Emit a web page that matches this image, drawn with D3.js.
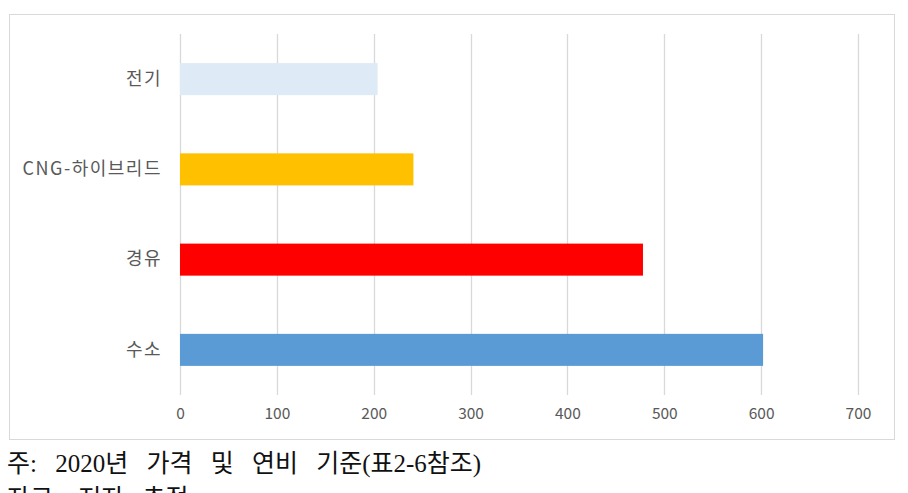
<!DOCTYPE html>
<html>
<head>
<meta charset="utf-8">
<script src="https://cdn.jsdelivr.net/npm/d3@7"></script>
<style>
  body { margin: 0; background: #fff; }
</style>
</head>
<body>
<div id="canvas"></div>
<script>
"use strict";

// Chart data
let categories = ["전기", "CNG-하이브리드", "경유", "수소"];
let values = [204, 241, 478, 602];
let barColors = ["#DEEAF6", "#FFC000", "#FF0000", "#5B9BD5"];
let xTicks = [0, 100, 200, 300, 400, 500, 600, 700];
let notes = ["주: 2020년 가격 및 연비 기준(표2-6참조)", "자료: 저자 추정"];

let svgWidth = 908;
let svgHeight = 493;

let svg = d3.select("#canvas")
    .append("svg")
    .attr("width", svgWidth)
    .attr("height", svgHeight);

// Chart frame
svg.append("rect")
    .attr("x", 9.5)
    .attr("y", 14.5)
    .attr("width", 885)
    .attr("height", 425)
    .attr("fill", "#fff")
    .attr("stroke", "#D9D9D9")
    .attr("stroke-width", 1);

let plotTop = 34;
let plotBottom = 395;

let xScale = d3.scaleLinear()
    .domain([0, 700])
    .range([180, 858]);

let yScale = d3.scaleBand()
    .domain(categories)
    .range([plotTop, plotBottom])
    .paddingInner(0.645)
    .paddingOuter(0.3225);

// Gridlines
svg.append("g")
    .selectAll("line")
    .data(xTicks)
    .join("line")
    .attr("x1", d => Math.round(xScale(d)) + 0.5)
    .attr("x2", d => Math.round(xScale(d)) + 0.5)
    .attr("y1", plotTop)
    .attr("y2", plotBottom)
    .attr("stroke", "#D9D9D9")
    .attr("stroke-width", 1.3);

// Bars
svg.append("g")
    .selectAll("rect")
    .data(values)
    .join("rect")
    .attr("x", xScale(0))
    .attr("y", (d, i) => yScale(categories[i]))
    .attr("width", d => xScale(d) - xScale(0))
    .attr("height", yScale.bandwidth())
    .attr("fill", (d, i) => barColors[i]);

// X axis labels
let xAxis = d3.axisBottom(xScale)
    .tickValues(xTicks)
    .tickSize(0)
    .tickPadding(0);

let xg = svg.append("g")
    .attr("transform", "translate(0," + 408 + ")")
    .call(xAxis);
xg.select(".domain").remove();
xg.selectAll("text")
    .attr("fill", "#595959")
    .style("font-family", "'Noto Sans CJK KR', 'Noto Sans', sans-serif")
    .style("font-size", "15.5px");

// Y axis labels
let yAxis = d3.axisLeft(yScale)
    .tickSize(0)
    .tickPadding(0);

let yg = svg.append("g")
    .attr("transform", "translate(" + 162 + ",0)")
    .call(yAxis);
yg.select(".domain").remove();
yg.selectAll("text")
    .attr("fill", "#595959")
    .style("font-family", "'Noto Sans CJK KR', 'Noto Sans', sans-serif")
    .style("font-size", "18px")
    .style("letter-spacing", "1.5px");

// Footnotes
svg.selectAll("text.note")
    .data(notes)
    .join("text")
    .classed("note", true)
    .attr("x", 7)
    .attr("y", (d, i) => 472 + i * 35)
    .attr("fill", "#111")
    .style("font-family", "'Liberation Serif', 'Noto Sans CJK KR', serif")
    .style("font-size", "25px")
    .style("word-spacing", "12px")
    .text(d => d);
</script>
</body>
</html>
